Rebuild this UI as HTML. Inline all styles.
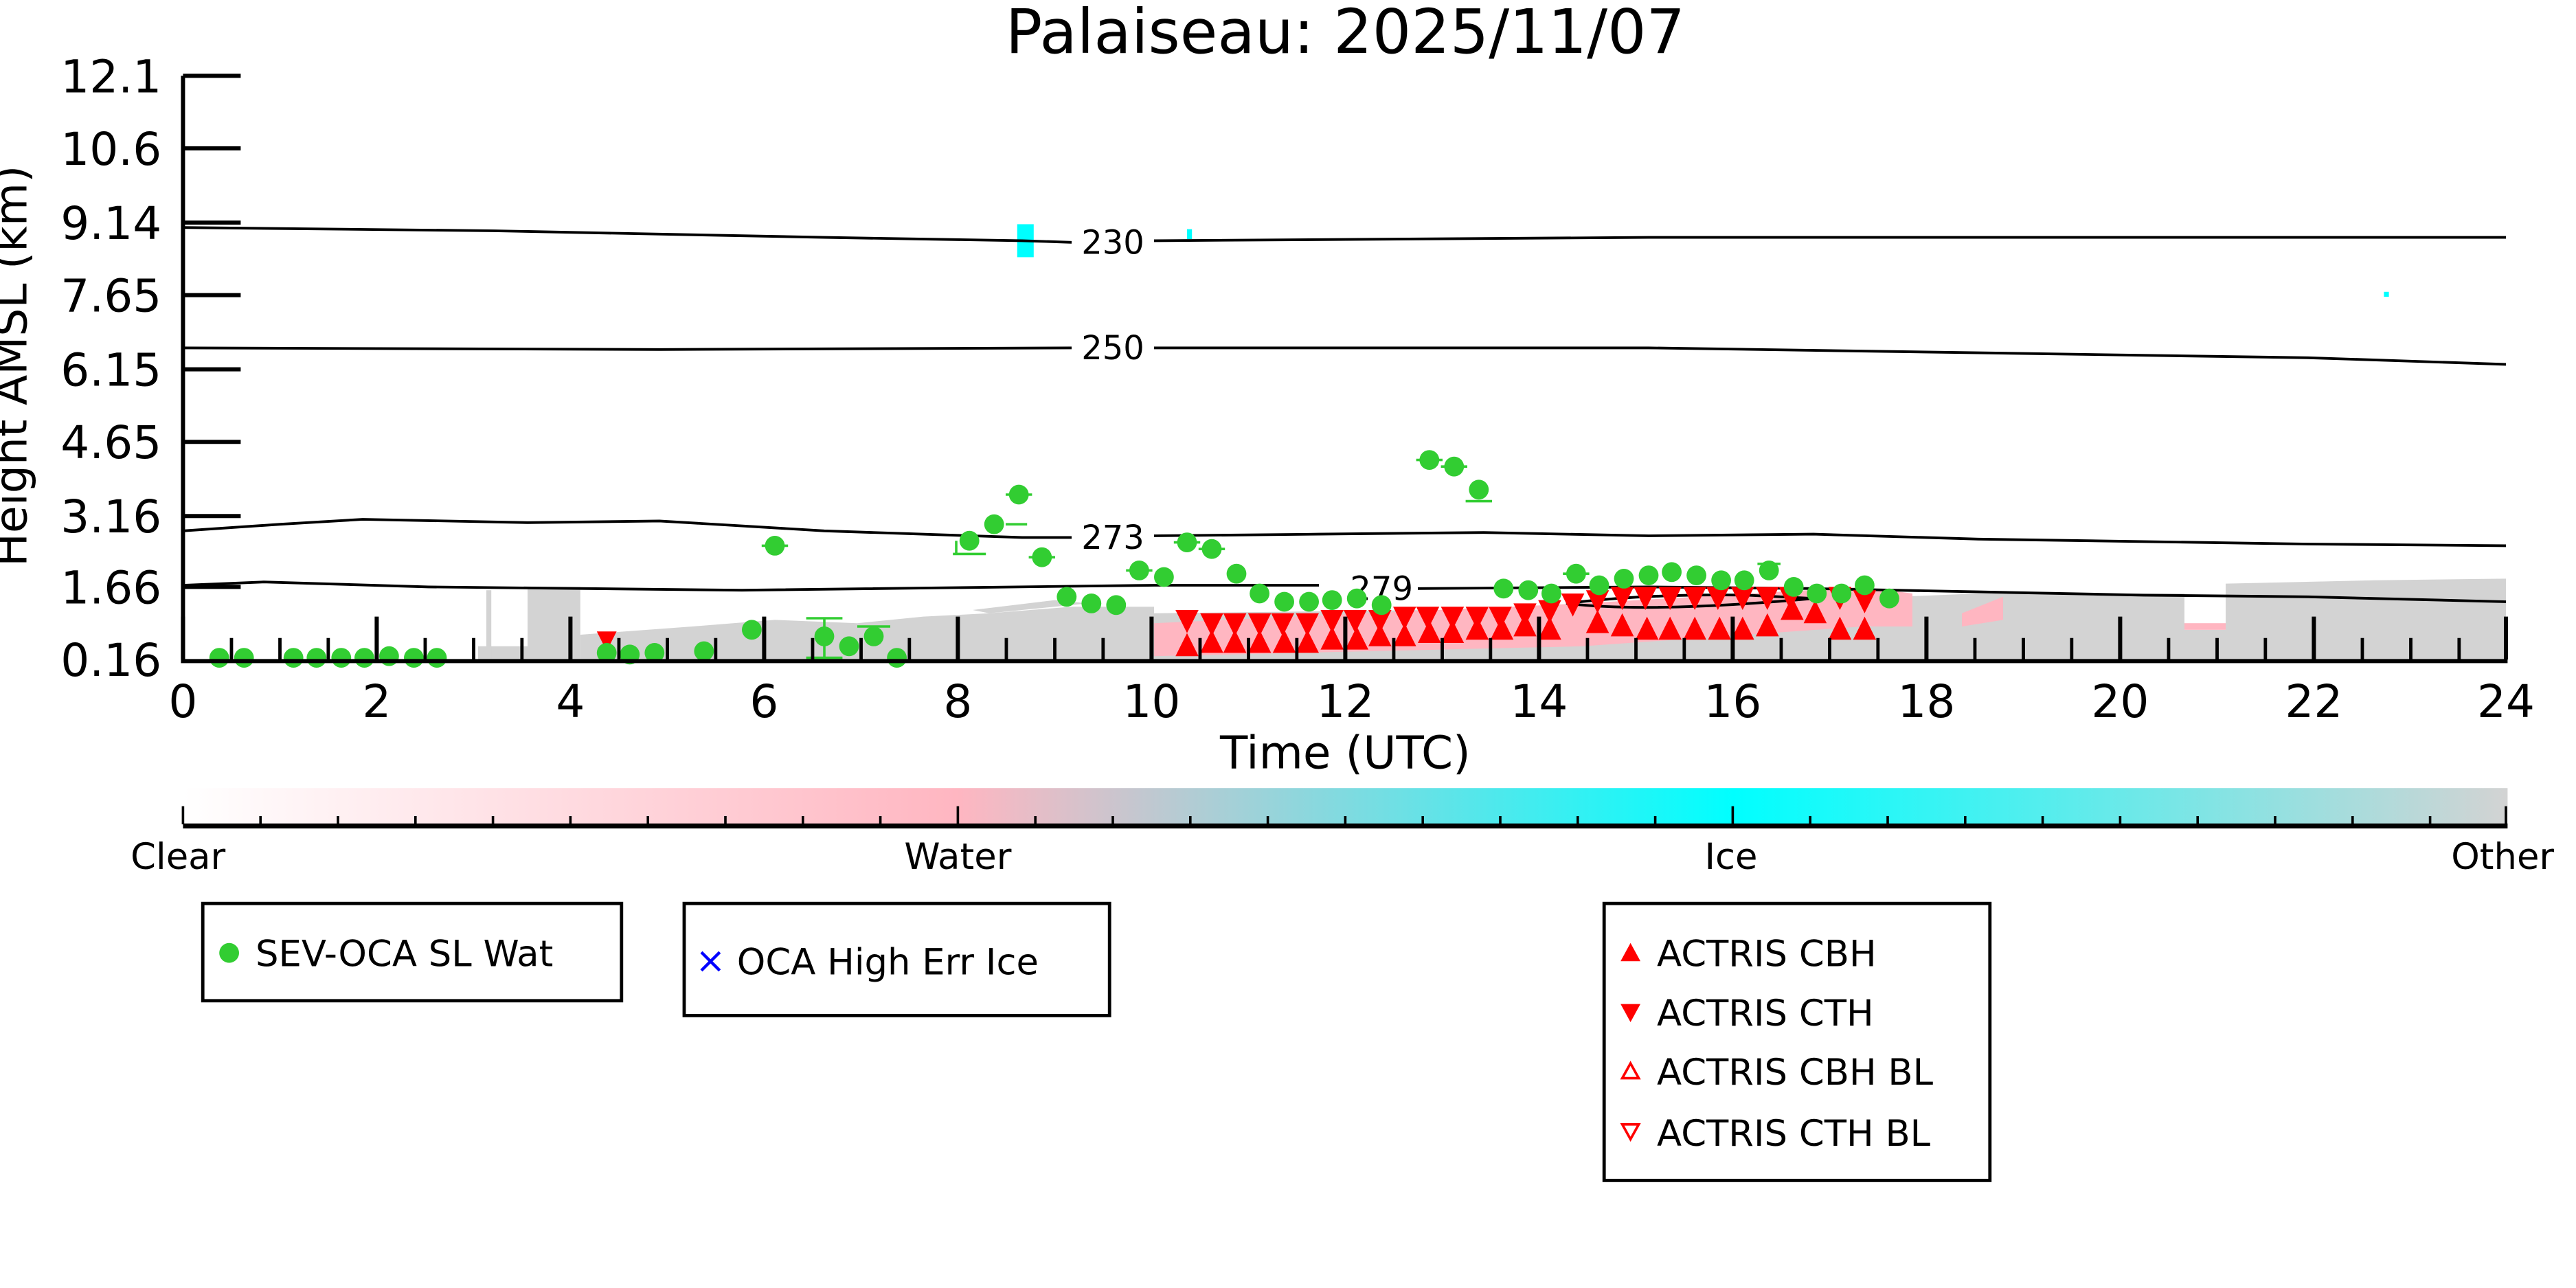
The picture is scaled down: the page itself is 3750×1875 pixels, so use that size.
<!DOCTYPE html>
<html><head><style>html,body{margin:0;padding:0;background:#fff}svg{display:block}</style></head><body>
<svg width="3750" height="1875" viewBox="0 0 1562.5 781.25" xmlns="http://www.w3.org/2000/svg" font-family="DejaVu Sans, Liberation Sans, sans-serif">
<defs>
<linearGradient id="cb" x1="0" x2="1" y1="0" y2="0">
<stop offset="0" stop-color="#ffffff"/><stop offset="0.333" stop-color="#ffb6c1"/><stop offset="0.667" stop-color="#00ffff"/><stop offset="1" stop-color="#d3d3d3"/>
</linearGradient>
</defs>
<text x="816" y="32" font-size="37" text-anchor="middle">Palaiseau: 2025/11/07</text>
<!-- gray/pink fill -->
<g fill="#d3d3d3">
<rect x="290" y="392" width="30" height="8"/>
<rect x="295" y="358" width="3" height="42"/>
<rect x="320" y="356" width="32" height="44"/>
<polygon points="352,400 352,385 420,380 470,376 520,378 560,374 600,372 650,368 700,368 700,400"/>
<polygon points="700,400 700,372 1200,366 1200,400"/>
<polygon points="1150,400 1150,362 1200,360 1325,360 1325,400"/>
<polygon points="1350,400 1350,354 1440,352 1520,351 1520,400"/>
<rect x="1325" y="382" width="25" height="18"/>
<polygon points="590,370 640,364 660,366 600,372"/>
</g>
<polygon points="700,398 700,378 960,366 1130,356 1160,360 1160,380 1130,380 960,392" fill="#ffb6c1"/>
<polygon points="1190,372 1215,362 1215,376 1190,380" fill="#ffb6c1"/>
<rect x="1325" y="378" width="25" height="4" fill="#ffb6c1"/>
<!-- cyan ice -->
<g fill="#00ffff"><rect x="617" y="136" width="10" height="20"/><rect x="720" y="139" width="3" height="6"/><rect x="1446" y="177" width="3" height="3"/></g>
<!-- contour lines -->
<g fill="none" stroke="#000" stroke-width="1.6">
<path d="M111,138 L300,140 L500,144 L620,146 L650,147 M700,146 L1000,144 L1300,144 L1520,144"/>
<path d="M111,211 L400,212 L650,211 M700,211 L1000,211 L1200,214 L1400,217 L1520,221"/>
<path d="M111,322 L170,318 L220,315 L320,317 L400,316 L500,322 L620,326 L650,326 M700,325 L800,324 L900,323 L1000,325 L1100,324 L1200,327 L1400,330 L1520,331"/>
<path d="M111,355 L160,353 L260,356 L450,358 L700,355 L800,355 M860,357 L1000,356 L1100,357 L1200,359 L1300,361 L1400,362 L1520,365"/>
<path d="M950,366 Q1000,360 1060,361 L1100,363 Q1000,372 950,366 Z"/>
</g>
<g font-size="20" text-anchor="middle"><text x="675" y="154">230</text><text x="675" y="218">250</text><text x="675" y="333">273</text><text x="838" y="364">279</text></g>
<!-- red triangles -->
<g fill="#f00">
<path d="M713,370 h14 l-7,14 z"/>
<path d="M728,372h14l-7,14z M742,372h14l-7,14z M757,372h14l-7,14z M771,372h14l-7,14z M786,372h14l-7,14z M801,370h14l-7,14z M815,370h14l-7,14z M830,370h14l-7,14z M845,368h14l-7,14z M859,368h14l-7,14z M874,368h14l-7,14z M889,368h14l-7,14z M903,368h14l-7,14z M918,366h14l-7,14z M933,364h14l-7,14z M947,360h14l-7,14z M962,358h14l-7,14z M977,356h14l-7,14z M991,356h14l-7,14z M1006,356h14l-7,14z M1021,356h14l-7,14z M1035,356h14l-7,14z M1050,356h14l-7,14z M1065,356h14l-7,14z M1079,356h14l-7,14z M1109,356h14l-7,14z M1124,358h14l-7,14z M362,383h12l-6,12z"/>
<path d="M720,384l7,14h-14z M735,382l7,14h-14z M749,382l7,14h-14z M764,382l7,14h-14z M779,382l7,14h-14z M793,382l7,14h-14z M808,380l7,14h-14z M823,380l7,14h-14z M837,378l7,14h-14z M852,378l7,14h-14z M867,376l7,14h-14z M881,376l7,14h-14z M896,374l7,14h-14z M911,374l7,14h-14z M925,372l7,14h-14z M940,374l7,14h-14z M969,370l7,14h-14z M984,372l7,14h-14z M999,374l7,14h-14z M1013,374l7,14h-14z M1028,374l7,14h-14z M1043,374l7,14h-14z M1057,374l7,14h-14z M1072,372l7,14h-14z M1087,362l7,14h-14z M1101,364l7,14h-14z M1116,374l7,14h-14z M1131,374l7,14h-14z"/>
</g>
<!-- green dots -->
<g fill="#32cd32" stroke="#32cd32" stroke-width="1.5">
<g stroke="none">
<circle cx="133" cy="399" r="6"/><circle cx="148" cy="399" r="6"/><circle cx="178" cy="399" r="6"/><circle cx="192" cy="399" r="6"/><circle cx="207" cy="399" r="6"/><circle cx="221" cy="399" r="6"/><circle cx="236" cy="398" r="6"/><circle cx="251" cy="399" r="6"/><circle cx="265" cy="399" r="6"/><circle cx="368" cy="396" r="6"/><circle cx="382" cy="397" r="6"/><circle cx="397" cy="396" r="6"/><circle cx="427" cy="395" r="6"/><circle cx="456" cy="382" r="6"/><circle cx="470" cy="331" r="6"/><circle cx="500" cy="386" r="6"/><circle cx="515" cy="392" r="6"/><circle cx="530" cy="386" r="6"/><circle cx="544" cy="399" r="6"/><circle cx="588" cy="328" r="6"/><circle cx="603" cy="318" r="6"/><circle cx="618" cy="300" r="6"/><circle cx="632" cy="338" r="6"/><circle cx="647" cy="362" r="6"/><circle cx="662" cy="366" r="6"/><circle cx="677" cy="367" r="6"/><circle cx="691" cy="346" r="6"/><circle cx="706" cy="350" r="6"/><circle cx="720" cy="329" r="6"/><circle cx="735" cy="333" r="6"/><circle cx="750" cy="348" r="6"/><circle cx="764" cy="360" r="6"/><circle cx="779" cy="365" r="6"/><circle cx="794" cy="365" r="6"/><circle cx="808" cy="364" r="6"/><circle cx="823" cy="363" r="6"/><circle cx="838" cy="367" r="6"/><circle cx="867" cy="279" r="6"/><circle cx="882" cy="283" r="6"/><circle cx="897" cy="297" r="6"/><circle cx="912" cy="357" r="6"/><circle cx="927" cy="358" r="6"/><circle cx="941" cy="360" r="6"/><circle cx="956" cy="348" r="6"/><circle cx="970" cy="355" r="6"/><circle cx="985" cy="351" r="6"/><circle cx="1000" cy="349" r="6"/><circle cx="1014" cy="347" r="6"/><circle cx="1029" cy="349" r="6"/><circle cx="1044" cy="352" r="6"/><circle cx="1058" cy="352" r="6"/><circle cx="1073" cy="346" r="6"/><circle cx="1088" cy="356" r="6"/><circle cx="1102" cy="360" r="6"/><circle cx="1117" cy="360" r="6"/><circle cx="1131" cy="355" r="6"/><circle cx="1146" cy="363" r="6"/>
</g>
<path fill="none" d="M462,331h16 M578,336h20 M610,318h13 M610,300h16 M624,338h16 M683,346h16 M712,329h16 M727,333h16 M859,279h16 M874,283h16 M889,304h16 M489,375h22 M489,399h22 M520,380h20 M948,348h16 M1066,342h14 M580,328v8 M500,375v24"/>
</g>
<!-- axes -->
<g stroke="#000" stroke-width="2.5" fill="none">
<path d="M111,46 V401 H1521"/>
<path d="M111,46h35 M111,90h35 M111,135h35 M111,179h35 M111,224h35 M111,268h35 M111,313h35 M111,356h35"/>
<path d="M111,400v-26 M228.5,400v-26 M346,400v-26 M463.5,400v-26 M581,400v-26 M698.5,400v-26 M816,400v-26 M933.5,400v-26 M1051,400v-26 M1168.5,400v-26 M1286,400v-26 M1403.5,400v-26 M1520,400v-26"/>
<path stroke-width="2" d="M140.4,400v-13 M169.8,400v-13 M199.1,400v-13 M257.9,400v-13 M287.3,400v-13 M316.6,400v-13 M375.4,400v-13 M404.8,400v-13 M434.1,400v-13 M492.9,400v-13 M522.3,400v-13 M551.6,400v-13 M610.4,400v-13 M639.8,400v-13 M669.1,400v-13 M727.9,400v-13 M757.3,400v-13 M786.6,400v-13 M845.4,400v-13 M874.8,400v-13 M904.1,400v-13 M962.9,400v-13 M992.3,400v-13 M1021.6,400v-13 M1080.4,400v-13 M1109.8,400v-13 M1139.1,400v-13 M1197.9,400v-13 M1227.3,400v-13 M1256.6,400v-13 M1315.4,400v-13 M1344.8,400v-13 M1374.1,400v-13 M1432.9,400v-13 M1462.3,400v-13 M1491.6,400v-13"/>
</g>
<g font-size="27.5" text-anchor="end">
<text x="98" y="56">12.1</text><text x="98" y="100">10.6</text><text x="98" y="145">9.14</text><text x="98" y="189">7.65</text><text x="98" y="234">6.15</text><text x="98" y="278">4.65</text><text x="98" y="323">3.16</text><text x="98" y="366">1.66</text><text x="98" y="410">0.16</text>
</g>
<text transform="translate(16,222) rotate(-90)" font-size="27" text-anchor="middle">Height AMSL (km)</text>
<g font-size="27.5" text-anchor="middle">
<text x="111" y="435">0</text><text x="228.5" y="435">2</text><text x="346" y="435">4</text><text x="463.5" y="435">6</text><text x="581" y="435">8</text><text x="698.5" y="435">10</text><text x="816" y="435">12</text><text x="933.5" y="435">14</text><text x="1051" y="435">16</text><text x="1168.5" y="435">18</text><text x="1286" y="435">20</text><text x="1403.5" y="435">22</text><text x="1520" y="435">24</text>
<text x="816" y="466">Time (UTC)</text>
</g>
<!-- colorbar -->
<rect x="111" y="478" width="1410" height="22" fill="url(#cb)"/>
<g stroke="#000" fill="none">
<path stroke-width="3" d="M111,501 H1521"/>
<path stroke-width="1.5" d="M111,500v-11 M581,500v-11 M1051,500v-11 M1520,500v-11 M158,500v-5 M205,500v-5 M252,500v-5 M299,500v-5 M346,500v-5 M393,500v-5 M440,500v-5 M487,500v-5 M534,500v-5 M628,500v-5 M675,500v-5 M722,500v-5 M769,500v-5 M816,500v-5 M863,500v-5 M910,500v-5 M957,500v-5 M1004,500v-5 M1098,500v-5 M1145,500v-5 M1192,500v-5 M1239,500v-5 M1286,500v-5 M1333,500v-5 M1380,500v-5 M1427,500v-5 M1474,500v-5"/>
</g>
<g font-size="22" text-anchor="middle"><text x="108" y="527">Clear</text><text x="581" y="527">Water</text><text x="1050" y="527">Ice</text><text x="1518" y="527">Other</text></g>
<!-- legends -->
<g stroke="#000" stroke-width="2" fill="none">
<rect x="123" y="548" width="254" height="59"/>
<rect x="415" y="548" width="258" height="68"/>
<rect x="973" y="548" width="234" height="168"/>
</g>
<circle cx="139" cy="578" r="6" fill="#32cd32"/>
<text x="155" y="586" font-size="22">SEV-OCA SL Wat</text>
<text x="431" y="590" font-size="22" fill="#00f" text-anchor="middle">×</text>
<text x="447" y="591" font-size="22">OCA High Err Ice</text>
<g fill="#f00"><path d="M989,572l6,11h-12z M983,609h12l-6,11z"/></g>
<g fill="none" stroke="#f00" stroke-width="1.5"><path d="M989,645l5,9h-10z M984,682h10l-5,9z"/></g>
<g font-size="22"><text x="1005" y="586">ACTRIS CBH</text><text x="1005" y="622">ACTRIS CTH</text><text x="1005" y="658">ACTRIS CBH BL</text><text x="1005" y="695">ACTRIS CTH BL</text></g>
</svg>
</body></html>
